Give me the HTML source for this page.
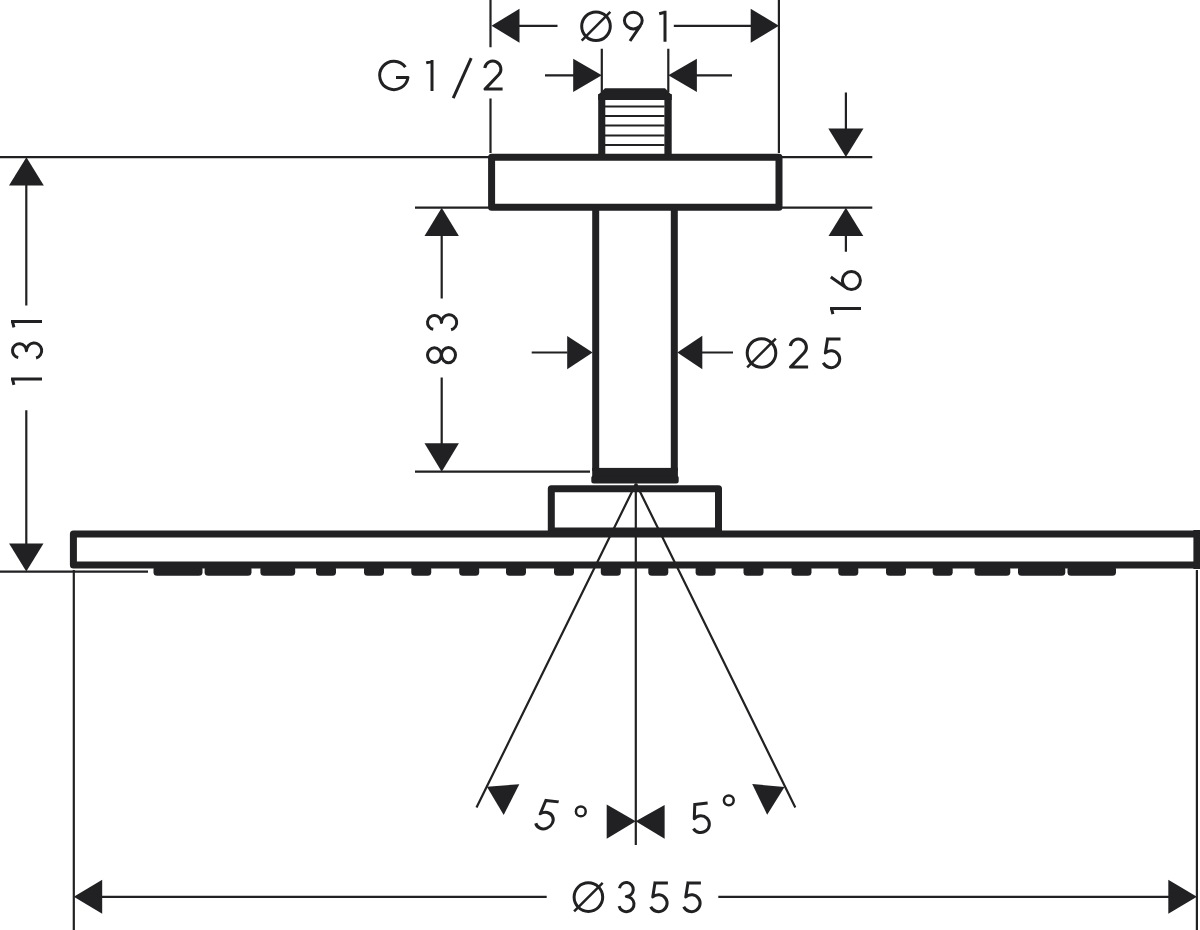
<!DOCTYPE html>
<html><head><meta charset="utf-8"><title>Shower head drawing</title>
<style>html,body{margin:0;padding:0;background:#fff;width:1200px;height:930px;overflow:hidden;font-family:"Liberation Sans",sans-serif}svg{display:block}</style>
</head><body>
<svg width="1200" height="930" viewBox="0 0 1200 930">
<rect width="1200" height="930" fill="#fff"/>
<g fill="none" stroke="#212123" stroke-width="2.2"><path d="M490.5,0L490.5,47.2M490.5,98.5L490.5,153M778.9,0L778.9,153M518,25.8L557.5,25.8M673.8,25.8L752,25.8M601.8,48.8L601.8,92M668.3,48.8L668.3,92M545,75.3L575,75.3M696,75.3L732,75.3M0,157.2L489,157.2M781,157.2L872.3,157.2M415,207.7L489,207.7M781,207.7L872.3,207.7M845.9,92.6L845.9,130M845.9,234L845.9,251.7M26.3,184L26.3,305.4M26.3,410.3L26.3,545M0,571.6L148,571.6M441.7,235L441.7,298.4M441.7,377.6L441.7,444.5M415,471.7L590,471.7M531.7,352.5L567.5,352.5M701.5,352.5L733,352.5M73.8,570L73.8,930M1196.9,570L1196.9,930M101,896.8L546.7,896.8M718.3,896.8L1170,896.8M635.8,483.5L635.8,845M636,483.5L476.5,807.5M636,483.5L795.3,807.5"/></g>
<g fill="none" stroke="#212123" stroke-width="2"><path d="M605,106.4H664.5M605,116.1H664.5M605,125.4H664.5M605,135.4H664.5M605,145.1H664.5"/></g>
<g fill="none" stroke="#212123" stroke-width="7.0" stroke-linejoin="round"><rect x="491.6" y="157.2" width="287.4" height="50"/><path d="M595.7,207V471M674.3,207V471"/><rect x="551.3" y="488.7" width="167.2" height="42.3"/><path d="M1203,534.1H73.4V565.1H1203"/><path d="M1196.9,530V569"/></g>
<g fill="#212123" stroke="none"><polygon points="491.5,25.8 519.5,8.8 519.5,42.8"/><polygon points="778.9,25.8 750.7,8.8 750.7,42.8"/><polygon points="601.8,75.3 573.2,58.7 573.2,91.9"/><polygon points="668.3,75.3 696.9,58.7 696.9,91.9"/><polygon points="845.9,157 828.3,128.6 863.5,128.6"/><polygon points="845.9,207.7 828.5,236.1 863.3,236.1"/><polygon points="26.4,157.2 9,185.4 43.8,185.4"/><polygon points="26.3,571.6 9.1,543.4 43.5,543.4"/><polygon points="441.7,207.7 424.5,236.1 458.9,236.1"/><polygon points="441.7,471.7 424.5,443.3 458.9,443.3"/><polygon points="592.6,352.6 567.2,335.9 567.2,369.3"/><polygon points="677.3,352.5 702.3,335.8 702.3,369.2"/><polygon points="73.8,896.8 102.2,879.8 102.2,913.8"/><polygon points="1196.9,896.8 1168.3,879.8 1168.3,913.8"/><polygon points="486.9,786.7 519.3,784.2 503.7,815"/><polygon points="784.5,787 752.2,784 767.2,814.75"/><polygon points="635.7,821.2 606.7,804.6 606.7,838.7"/><polygon points="635.7,821.2 664.6,804.9 664.6,838.7"/><path d="M598.2,94.7L605,88.3H665L671.7,94.9V100H598.2Z"/><rect x="598.2" y="94" width="7.1" height="62"/><rect x="664.4" y="94" width="7.3" height="62"/><rect x="592.2" y="467.9" width="85.7" height="8.6"/><rect x="591.3" y="475.4" width="87.4" height="8.2" rx="2.5"/><rect x="153.5" y="566" width="49" height="9.8" rx="3.6"/><rect x="204.6" y="566" width="46.9" height="9.8" rx="3.6"/><rect x="260.4" y="566" width="34.8" height="9.8" rx="3.6"/><rect x="316" y="566" width="20" height="9.8" rx="3.6"/><rect x="364" y="566" width="20" height="9.8" rx="3.6"/><rect x="411.25" y="566" width="20" height="9.8" rx="3.6"/><rect x="459.2" y="566" width="20" height="9.8" rx="3.6"/><rect x="506" y="566" width="20" height="9.8" rx="3.6"/><rect x="554" y="566" width="20" height="9.8" rx="3.6"/><rect x="600.8" y="566" width="20" height="9.8" rx="3.6"/><rect x="648.3" y="566" width="20" height="9.8" rx="3.6"/><rect x="695.6" y="566" width="20" height="9.8" rx="3.6"/><rect x="743.5" y="566" width="20" height="9.8" rx="3.6"/><rect x="791.5" y="566" width="20" height="9.8" rx="3.6"/><rect x="838.3" y="566" width="20" height="9.8" rx="3.6"/><rect x="886" y="566" width="20" height="9.8" rx="3.6"/><rect x="932.7" y="566" width="20" height="9.8" rx="3.6"/><rect x="974.5" y="566" width="35.8" height="9.8" rx="3.6"/><rect x="1018" y="566" width="47.3" height="9.8" rx="3.6"/><rect x="1067.5" y="566" width="48.5" height="9.8" rx="3.6"/></g>
<g fill="none" stroke="#212123" stroke-width="3.0" stroke-linejoin="round"><path d="M581.7,26.25A14.3,14.3 0 1 0 610.3,26.25A14.3,14.3 0 1 0 581.7,26.25Z"/><path stroke-width="2.5" d="M581.7,40.55L610.3,11.95"/><path transform="translate(622.8,10.8)" d="M1.6,9.8A8.9,8.3 0 1 0 19.4,9.8A8.9,8.3 0 1 0 1.6,9.8ZM17.82,14.52L7.2,30.2"/><path transform="translate(658,10.8)" d="M7,0V31M1.2,2.9L7,1.5"/><path transform="translate(378.7,59.6)" d="M26.69,7.45A14.2,14.2 0 1 0 29.26,17.78L17.3,17.78"/><path transform="translate(425,60)" d="M7,0V31M1.2,2.9L7,1.5"/><path transform="translate(451.9,58.1)" d="M1.3,40L19.3,0"/><path transform="translate(483,59.6)" d="M1.78,8.47A8.1,8.1 0 1 1 15.66,15.19L2,29.5H19.6"/><g transform="translate(830,315.4) rotate(-90)"><path transform="translate(0,0)" d="M7,0V31M1.2,2.9L7,1.5"/><path transform="translate(24.4,0)" d="M1.5,21.4A9,9 0 1 0 19.5,21.4A9,9 0 1 0 1.5,21.4ZM3.14,16.22L14,0.8"/></g><g transform="translate(11,386) rotate(-90)"><path transform="translate(0,0)" d="M7,0V31M1.2,2.9L7,1.5"/><path transform="translate(26,0)" d="M2.46,7.24A6.95,6.95 0 1 1 9.3,15.4L9.4,15.5A7.6,7.6 0 1 1 2.06,25.07"/><path transform="translate(57.5,0)" d="M7,0V31M1.2,2.9L7,1.5"/></g><g transform="translate(426,364.2) rotate(-90)"><path transform="translate(0,0)" d="M1.8,8.4A7.3,6.9 0 1 0 16.4,8.4A7.3,6.9 0 1 0 1.8,8.4ZM1.5,22.5A7.6,7 0 1 0 16.7,22.5A7.6,7 0 1 0 1.5,22.5Z"/><path transform="translate(32.4,0)" d="M2.46,7.24A6.95,6.95 0 1 1 9.3,15.4L9.4,15.5A7.6,7.6 0 1 1 2.06,25.07"/></g><path d="M747.2,353A14.3,14.3 0 1 0 775.8,353A14.3,14.3 0 1 0 747.2,353Z"/><path stroke-width="2.5" d="M747.2,367.3L775.8,338.7"/><path transform="translate(788.5,337.6)" d="M1.78,8.47A8.1,8.1 0 1 1 15.66,15.19L2,29.5H19.6"/><path transform="translate(820.9,337.6)" d="M6.8,1.5H19.6M6.9,0L4.45,15.36L4.45,15.36A8.6,8.4 0 1 1 2.41,25.15"/><path d="M574.1,897.1A14.3,14.3 0 1 0 602.7,897.1A14.3,14.3 0 1 0 574.1,897.1Z"/><path stroke-width="2.5" d="M574.1,911.4L602.7,882.8"/><path transform="translate(617,881)" d="M2.46,7.24A6.95,6.95 0 1 1 9.3,15.4L9.4,15.5A7.6,7.6 0 1 1 2.06,25.07"/><path transform="translate(648.3,881.6)" d="M6.8,1.5H19.6M6.9,0L4.45,15.36L4.45,15.36A8.6,8.4 0 1 1 2.41,25.15"/><path transform="translate(681.3,881.6)" d="M6.8,1.5H19.6M6.9,0L4.45,15.36L4.45,15.36A8.6,8.4 0 1 1 2.41,25.15"/><path transform="translate(545.7,814.6) rotate(6) skewX(-8) translate(-10,-15.5)" d="M6.8,1.5H19.6M6.9,0L4.45,15.36L4.45,15.36A8.6,8.4 0 1 1 2.41,25.15"/><path transform="translate(699.8,818.1) rotate(-7) translate(-10,-15.5)" d="M6.8,1.5H19.6M6.9,0L4.45,15.36L4.45,15.36A8.6,8.4 0 1 1 2.41,25.15"/></g>
<g fill="none" stroke="#212123" stroke-width="2.5"><path d="M575.9,811.4A4.9,4.9 0 1 0 585.7,811.4A4.9,4.9 0 1 0 575.9,811.4ZM723.9,800.3A4.9,4.9 0 1 0 733.7,800.3A4.9,4.9 0 1 0 723.9,800.3Z"/></g>
</svg>
</body></html>
